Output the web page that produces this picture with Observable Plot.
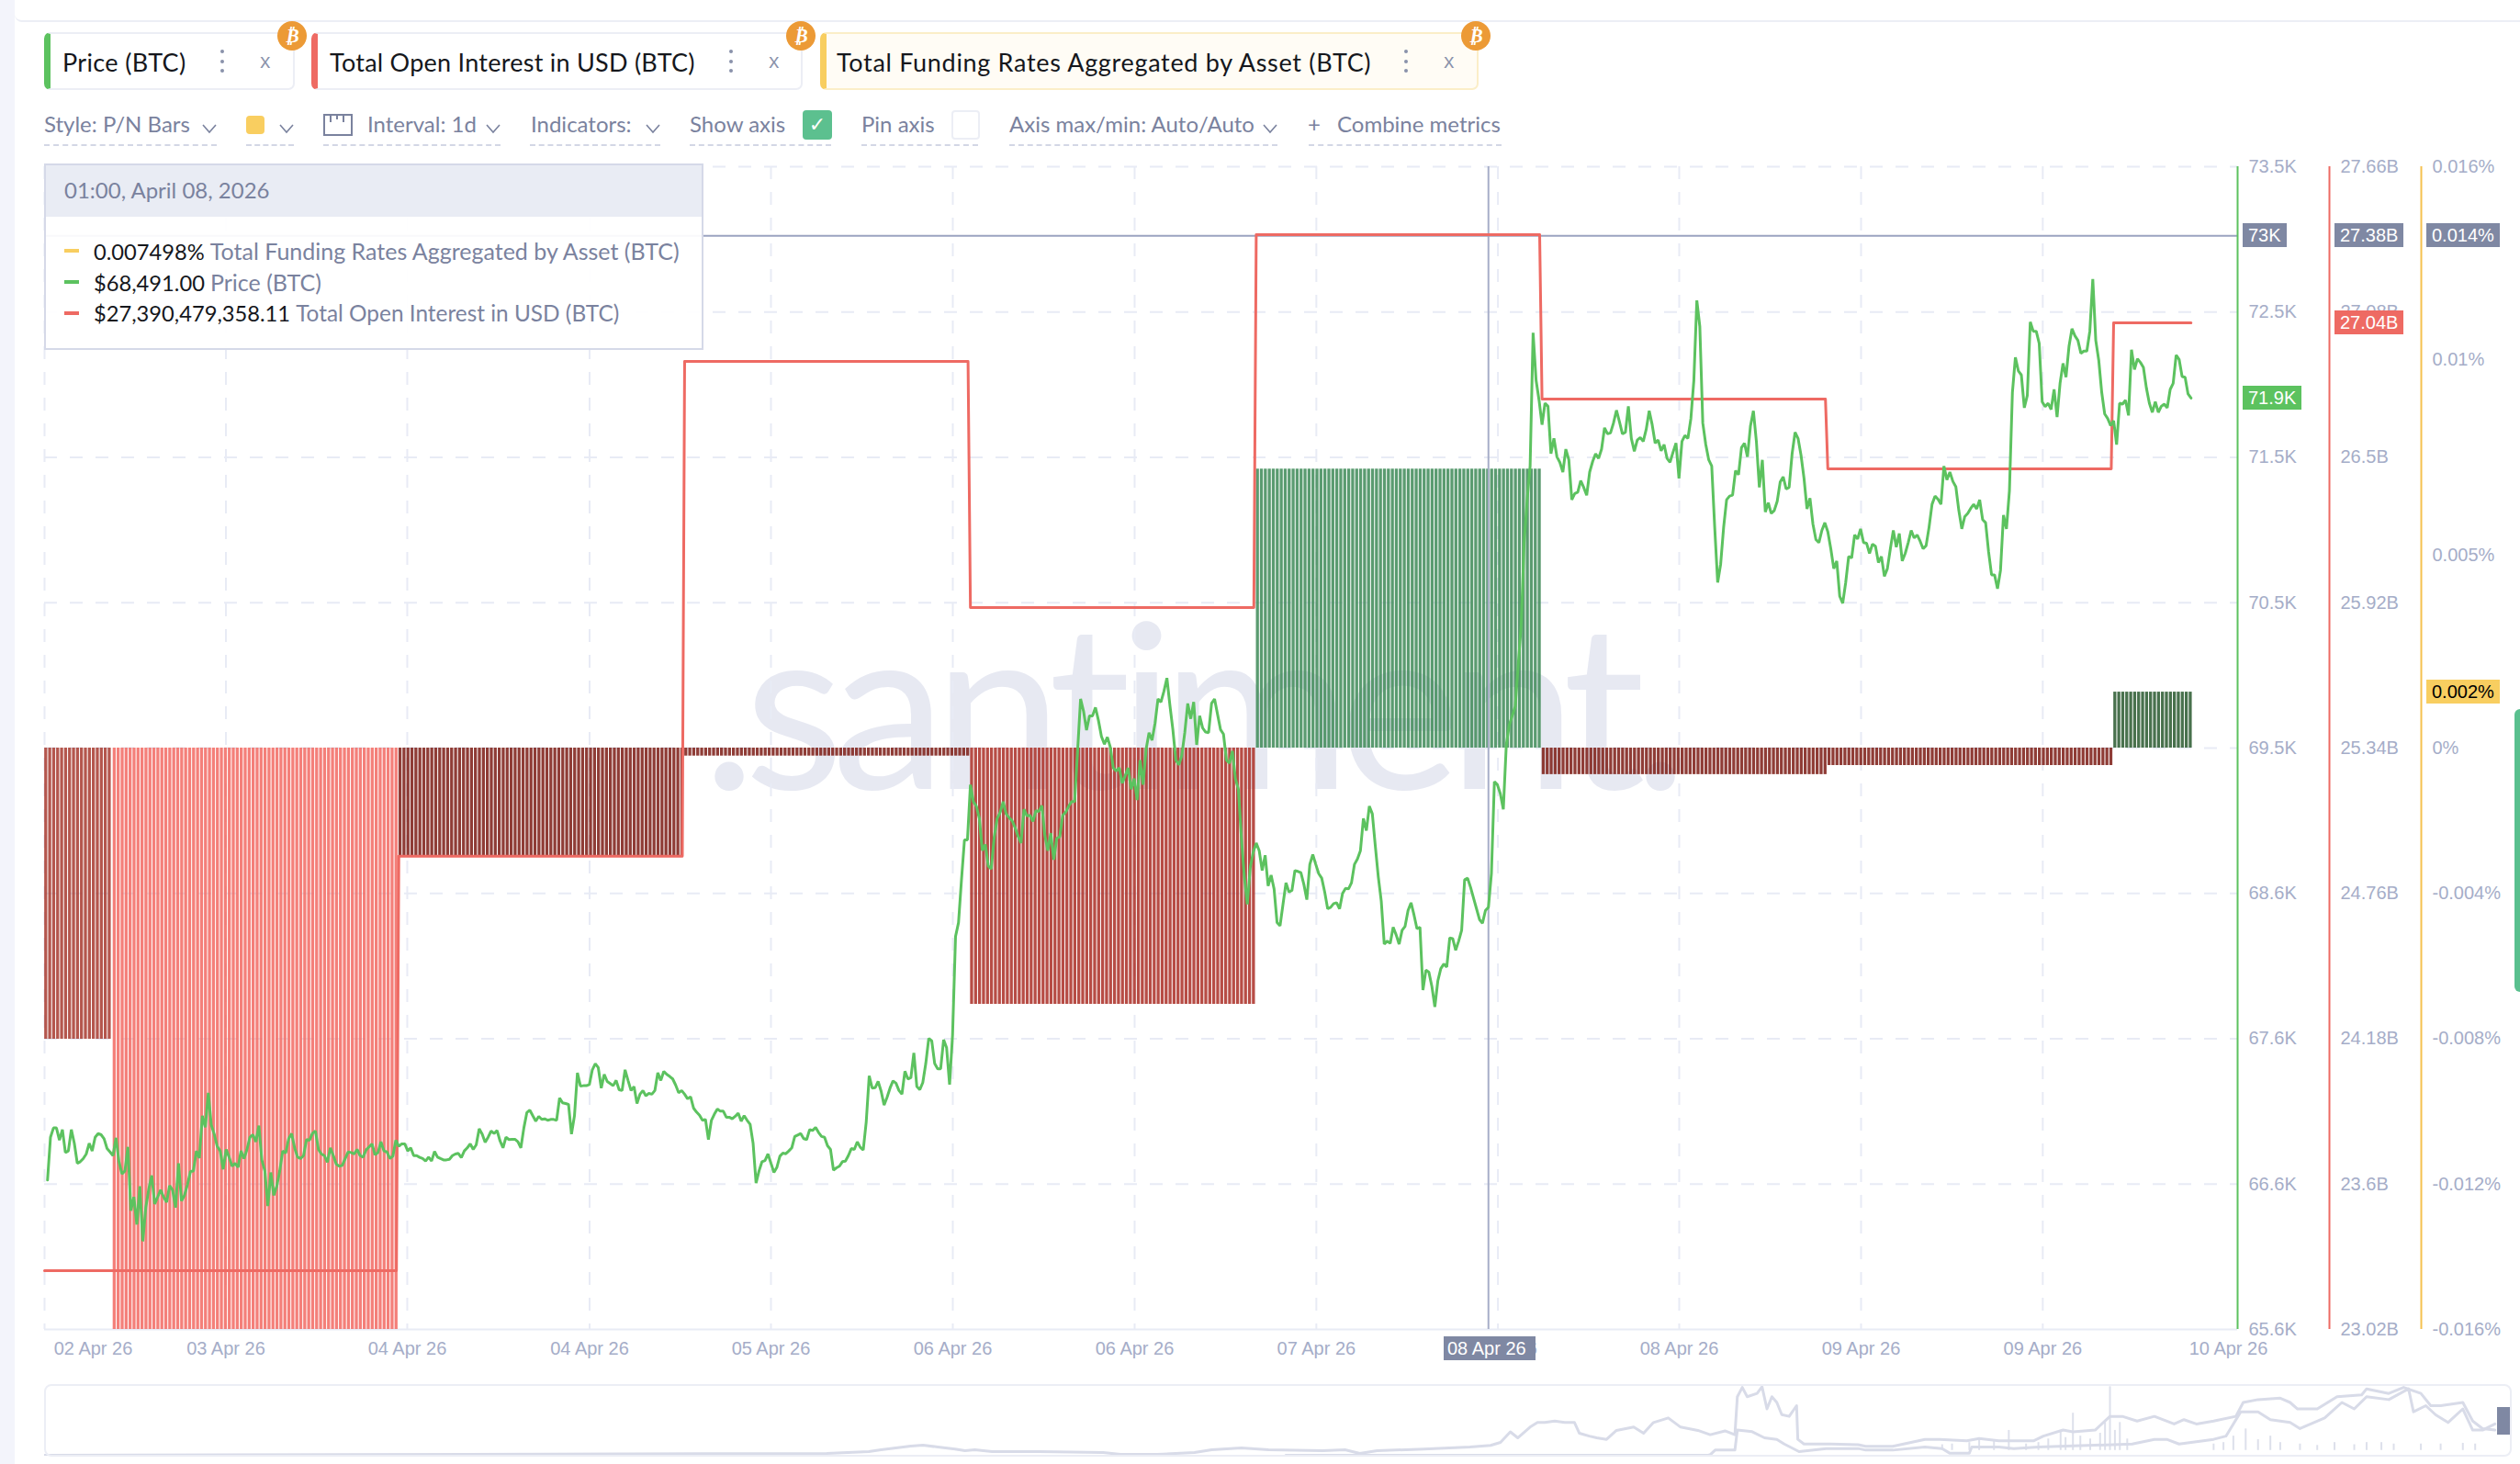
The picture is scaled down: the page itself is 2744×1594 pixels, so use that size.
<!DOCTYPE html>
<html><head><meta charset="utf-8">
<script src="https://cdn.jsdelivr.net/npm/d3@7"></script>
<script src="https://cdn.jsdelivr.net/npm/@observablehq/plot@0.6"></script>
<style>
html,body{margin:0;padding:0;background:#fff}
body{width:2744px;height:1594px;position:relative;overflow:hidden;font-family:Lato,sans-serif}
.abs{position:absolute;white-space:nowrap;box-sizing:border-box}
svg{position:absolute;background:transparent}
</style></head><body>
<script>
// ---------- data ----------
const startTime = "2026-04-02T23:45:00Z";
// BTC price every 15 minutes, from 15 minutes after startTime
const priceValues = [
66615,66906,66969,66969,66886,66958,66802,66813,66958,66865,66729,66740,66761,66792,66865,66813,66906,66931,66923,66896,66829,66806,66781,66902,66740,66657,66677,66840,66407,66500,66313,66573,66199,66428,66552,66646,66453,66500,66548,66500,66465,66577,66548,66428,66729,66473,66511,66584,66673,66677,66813,66765,67052,66973,67208,66990,66927,66844,66813,66688,66823,66771,66709,66729,66702,66813,66761,66823,66906,66923,66875,66985,66750,66677,66438,66667,66511,66573,66677,66813,66798,66896,66931,66834,66771,66761,66781,66890,66886,66933,66948,66823,66792,66781,66736,66834,66781,66723,66709,66715,66761,66806,66802,66792,66823,66781,66771,66819,66840,66861,66786,66802,66875,66813,66806,66761,66777,66886,66844,66861,66861,66813,66834,66781,66781,66769,66761,66744,66771,66744,66809,66771,66761,66752,66752,66756,66781,66792,66796,66767,66813,66834,66861,66823,66854,66963,66927,66871,66906,66948,66931,66952,66881,66834,66906,66890,66892,66892,66875,66834,66969,67073,67090,67052,67015,67048,67027,67031,67021,67027,67027,67021,67173,67140,67135,67129,66927,67052,67344,67254,67256,67256,67264,67364,67406,67379,67240,67333,67285,67271,67256,67292,67229,67223,67364,67292,67223,67250,67135,67198,67223,
67187,67204,67198,67223,67344,67292,67354,67333,67319,67302,67260,67208,67223,67198,67167,67181,67104,67077,67056,67021,67027,66890,67021,67063,67098,67083,67083,67042,67042,67031,67048,67069,67015,67052,67021,66994,66865,66594,66677,66740,66748,66792,66729,66667,66702,66777,66798,66794,66813,66834,66911,66921,66931,66896,66890,66958,66952,66973,66938,66911,66906,66848,66823,66682,66698,66709,66740,66744,66781,66829,66823,66875,66838,66819,67010,67323,67240,67242,67285,67219,67125,67177,67240,67289,67273,67223,67198,67354,67302,67310,67479,67250,67229,67277,67406,67577,67562,67406,67371,67371,67568,67514,67264,67600,
68270,68364,68656,68926,68926,69301,69186,69155,69072,68853,68895,68749,68728,68947,69072,69114,69186,69103,69076,69057,69010,68951,68905,69134,69089,69093,69051,69124,69120,69159,68957,68853,68972,68791,68937,68947,69093,69114,69155,69186,69186,69530,69884,69801,69672,69769,69769,69826,69738,69630,69576,69624,69555,69415,69395,69415,69311,69363,69415,69270,69343,69197,69468,69301,69540,69655,69603,69717,69884,69863,69936,70026,69842,69676,69468,69436,69499,69655,69853,69749,69863,69572,69769,69686,69659,69655,69853,69884,69780,69676,69645,69468,69447,69530,69343,69270,68947,68676,68489,68739,68843,68905,68853,68718,68822,68614,68687,68593,68364,68343,68489,68635,68572,68583,68718,68712,68703,68624,68520,68760,68826,68760,68697,68666,68572,68458,68468,68493,68499,68458,68562,68597,68593,68635,68760,68797,68853,69072,68989,69155,69103,68885,68676,68510,68218,68239,68223,68333,68281,68218,68312,68339,68447,68499,68416,68322,68333,67906,68041,68027,67931,67792,67968,68052,68083,68062,68260,68256,68177,68239,68312,68656,68666,68604,68531,68458,68385,68360,68447,68468,68697,69322,69301,69239,69134,69572,69707,69769,69832,70113,
70384,70946,71237,71466,72372,72049,71914,71747,71893,71872,71550,71654,71529,71491,71425,71581,71508,71237,71279,71289,71366,71321,71268,71425,71497,71550,71518,71581,71726,71685,71691,71758,71845,71768,71685,71695,71872,71654,71566,71643,71660,71633,71716,71841,71747,71622,71643,71570,71612,71518,71491,71560,71622,71383,71633,71674,71654,71789,72049,72591,72414,71758,71612,71508,71466,71050,70675,70800,71050,71237,71262,71268,71435,71408,71591,71622,71529,71737,71841,71633,71321,71508,71154,71216,71144,71164,71227,71358,71393,71310,71321,71550,71695,71654,71539,71383,71175,71248,71071,70967,70946,71029,71081,71019,70904,70769,70821,70581,70534,70675,70852,70842,70998,70971,71039,70946,70942,70873,70935,70921,70810,70852,70717,70769,70904,71029,70915,71008,70821,70873,70946,71029,70977,70998,70956,70904,70925,71050,71206,71262,71241,71206,71466,71373,71425,71362,71325,71164,71039,71123,71144,71179,71206,71175,71237,71102,71081,70883,70727,70727,70633,70758,71133,71039,71300,71966,72205,72112,72085,71862,71945,72445,72382,72382,72299,71903,71870,71893,71851,71987,71799,72028,72164,72070,72278,72399,72351,72320,72232,72247,72247,72382,72736,72320,72185,71966,71820,71789,71741,71774,71612,71893,71887,71914,71810,72257,72122,72195,72170,72137,71997,71893,71831,71903,71831,71872,71887,71862,71987,72028,72220,72191,72074,72070,71956,71928];
// Total open interest in USD billions, one level per day, with its start in hours after startTime
const oiStarts = [0,29.75,53.75,77.75,101.75,125.75,149.75,173.75];
const oiValues = [23.255,24.908,26.883,25.901,27.389,26.733,26.454,27.037];
// Aggregated funding rate in percent, one bar per day
const fundingStarts = [0,5.75,29.75,53.75,77.75,101.75,125.75,149.75,173.75];
const fundingValues = [-0.00801,-0.016,-0.00298,-0.00022,-0.00705,0.00768,-0.00073,-0.00048,0.00154];
const lastHour = 180.25;
// axes
const priceTicks = [73500,72512,71525,70538,69550,68562,67575,66588,65600];
const priceLabels = ["73.5K","72.5K","71.5K","70.5K","69.5K","68.6K","67.6K","66.6K","65.6K"];
const oiTickValues = [27.66,27.08,26.5,25.92,25.34,24.76,24.18,23.6,23.02];
const oiLabels = ["27.66B","27.08B","26.5B","25.92B","25.34B","24.76B","24.18B","23.6B","23.02B"];
const fundingTicks = [0.016,0.0107,0.0053,0,-0.004,-0.008,-0.012,-0.016];
const fundingLabels = ["0.016%","0.01%","0.005%","0%","-0.004%","-0.008%","-0.012%","-0.016%"];
const dateTickHours = [15.23,30.46,45.77,61.0,76.27,91.54,106.8,122.05,137.27,152.54,167.8];
const firstTickHour = 0, lastTickHour = 183.08;
const crosshairHour = 121.25, crosshairPrice = 73030;
// overview strip, position and height in percent of the strip
const miniUpperX = [0,31.7,33.4,33.9,35.1,35.6,36.2,36.9,37.3,37.7,38.4,40.3,42.9,43.6,45.1,46.6,47.3,48.5,49.6,51.8,52.7,53.3,54,55.9,57.76,58.6,59,59.4,59.7,60.2,60.5,60.8,61.2,61.6,62,62.2,62.6,62.9,63.3,63.7,64.4,64.8,65.2,65.8,66.3,67,67.5,68.1,68.5,68.6,68.8,69,69.4,69.6,69.8,70,70.2,70.4,70.7,71,71.05,71.3,72.4,73.5,73.8,74.9,76.2,76.8,77.9,78.4,79.2,80.6,81,81.8,82.2,83.1,83.7,84.2,84.8,85.5,86.3,86.7,87.2,87.9,88.8,89.1,89.7,90.6,91,91.3,92.1,92.9,93.9,94.1,95,95.6,96.3,96.7,97.1,98,98.4,98.8,99.3];
const miniUpperY = [1.3,3.8,6.4,9,14,15.4,12.8,10,7.7,9,6.4,6.4,5,2.6,2.6,5,9,11.5,9,7.7,9,3.8,7.7,10,12.8,15,19.2,34,25.6,40.6,47,47,49,47,47,32,28,25.6,23.5,36,40.6,32,47,53.4,40.6,36,30,35.3,30,83,96,83,87.6,97,66,83,75,58,55.6,70.5,23.5,17,17,16,13.7,13.7,23.5,23.5,21.4,24.8,21.4,21.4,28,36.5,34,36.5,55.6,55.6,49,55.6,45,51,45,49,55.6,75,79,81,75,66,66,83,85.5,94,87.6,96,87.6,70.5,70.5,75,49,38.5,36.5];
const miniLowerX = [50.3,57.8,67.4,67.5,67.7,68.5,68.6,69.2,69.7,70.2,70.5,71.1,72.2,73.5,73.8,74.9,76.2,76.9,77.2,78,78.1,79.2,79.8,80.8,84.6,85.5,86,86.5,87.9,88.4,89,89.7,90.2,91,91.4,92.4,93.1,93.6,94.1,95,95.8,96,96.5,96.9,97.4,98,98.4,98.8,99.3];
const miniLowerY = [1.3,1.3,1.3,2,8.5,8.5,36.5,34.2,25.6,23.5,17,6.4,10.7,10.7,8.5,8.5,12.8,10.7,4.3,4.3,12.8,12.8,10.7,12.8,17,23.5,23.5,17,23.5,28,62,62,51,47,38.5,53.4,75,66,83,79,94,62,70.5,57.7,47,66,36.5,36.5,45];
const miniSpikeX = [76.9,77.3,78,78.4,79,79.6,80.3,80.8,81.2,81.7,81.9,82.2,82.5,82.9,83.3,83.5,83.7,83.9,84.1,84.4,87.9,88.3,88.7,89.2,89.7,90.2,90.6,91.4,92.1,92.8,93.6,94.1,94.7,95.2,96.3,97.1,98,98.5];
const miniSpikeY = [16,17,19,24,21,36,17,19,24,34,26,60,28,24,32,47,97,36,47,24,17,19,28,38,23,28,19,17,15,19,16,19,19,17,17,17,18,17];

// ---------- styles ----------
const GREEN="#5cc25f", RED="#ee6a63", YELLOW="#f5c14f", GRID="#e8ebf5", TICK="#a5adc8", SLATE="#7f88a3", UI="#7a829e";
const barFill = i => ["#a83a30","#f26a63","#7d1c15","#7d1c15","#ab2f26","#3f8a58","#7d1c15","#7d1c15","#2a5a30"][i];

// ---------- scales helpers ----------
const t0 = +new Date(startTime);
const at = h => new Date(t0 + h*3600e3);
const fromOi = d3.scaleLinear([23.02,27.66],[65600,73500]);
const fromFunding = d3.scaleLinear([-0.016,0.016],[65600,73500]);

const priceTable = priceValues.map((v,i)=>({t:at((i+1)*0.25),v}));
const oiTable = oiValues.flatMap((v,i)=>[
  {t:at(oiStarts[i]),v:fromOi(v)},
  {t:at((i<oiStarts.length-1?oiStarts[i+1]-0.2:lastHour)),v:fromOi(v)}]);
const stripes = fundingValues.flatMap((v,i)=>{
  const end = i<fundingStarts.length-1?fundingStarts[i+1]:lastHour;
  return d3.range(fundingStarts[i]+0.1,end,1/3).map(h=>({t:at(h),v:fromFunding(v),i}));
});
const base = fromFunding(0);
const tickStyle = {tickSize:0,fontSize:20,fill:TICK,label:null};
const mapOf = (k,v)=>{const m=new Map(k.map((d,i)=>[+d,v[i]]));return d=>m.get(+d)};
const fmtDate = d3.utcFormat("%d %b %y");
const gridDates = [firstTickHour,...dateTickHours].map(at);

const chart = Plot.plot({
  width:2744,height:1340,marginTop:21,marginBottom:53,marginLeft:48,marginRight:308,
  style:{fontFamily:"'Liberation Sans',sans-serif",fontSize:"20px",background:"transparent"},
  x:{type:"utc",domain:[at(0),at(184.16)]},
  y:{domain:[65600,73500]},
  marks:[
    Plot.text([".santiment."],{frameAnchor:"middle",dx:52,dy:44,lineAnchor:"bottom",fontSize:250,fontFamily:"Lato,sans-serif",fill:"#e7e9f2",className:"wm"}),
    Plot.ruleY(priceTicks.slice(0,-1),{stroke:GRID,strokeWidth:2,strokeDasharray:"14 14"}),
    Plot.ruleX(gridDates,{stroke:GRID,strokeWidth:2,strokeDasharray:"14 14"}),
    Plot.ruleY([65600],{stroke:GRID,strokeWidth:2}),
    Plot.ruleX(stripes,{x:"t",y1:base,y2:"v",stroke:d=>barFill(d.i),strokeWidth:3.3,strokeOpacity:0.86}),
    Plot.ruleX([at(crosshairHour)],{stroke:"#a7aec8",strokeWidth:2}),
    Plot.ruleY([crosshairPrice],{stroke:"#9ba3c0",strokeWidth:2}),
    Plot.line(oiTable,{x:"t",y:"v",stroke:RED,strokeWidth:3,curve:"linear"}),
    Plot.line(priceTable,{x:"t",y:"v",stroke:GREEN,strokeWidth:3,curve:"linear",strokeLinejoin:"miter"}),
    Plot.ruleX([at(184.16)],{stroke:GREEN,strokeWidth:2}),
    Plot.ruleX([at(184.16)],{stroke:RED,strokeWidth:2,dx:100}),
    Plot.ruleX([at(184.16)],{stroke:YELLOW,strokeWidth:2,dx:200}),
    Plot.axisY(priceTicks,{...tickStyle,anchor:"right",tickPadding:12,tickFormat:mapOf(priceTicks,priceLabels)}),
    Plot.axisY(oiTickValues.map(fromOi),{...tickStyle,anchor:"right",tickPadding:12,dx:100,tickFormat:mapOf(oiTickValues.map(fromOi),oiLabels)}),
    Plot.axisY(fundingTicks.map(fromFunding),{...tickStyle,anchor:"right",tickPadding:12,dx:200,tickFormat:mapOf(fundingTicks.map(fromFunding),fundingLabels)}),
    Plot.axisX(dateTickHours.map(at),{...tickStyle,anchor:"bottom",tickPadding:13,tickFormat:fmtDate}),
    Plot.axisX([at(firstTickHour)],{...tickStyle,anchor:"bottom",tickPadding:13,dx:53,tickFormat:fmtDate}),
    Plot.axisX([at(lastTickHour)],{...tickStyle,anchor:"bottom",tickPadding:13,dx:4,tickFormat:fmtDate})
  ]
});
chart.style.left="0px";chart.style.top="160px";
d3.select(chart).selectAll("text").filter(function(){return this.textContent===".santiment."}).style("letter-spacing","-13px");
document.body.append(chart);

const mini = Plot.plot({
  width:2687,height:78,margin:0,x:{domain:[0,100],axis:null},y:{domain:[0,100],axis:null},
  style:{background:"transparent"},
  marks:[
    Plot.ruleX(miniSpikeX.map((x,i)=>({x,y:miniSpikeY[i]})),{x:"x",y1:8,y2:"y",stroke:"#dde0eb",strokeWidth:2}),
    Plot.line(miniUpperX.map((x,i)=>({x,y:miniUpperY[i]})),{x:"x",y:"y",stroke:"#d8dbe8",strokeWidth:3}),
    Plot.line(miniLowerX.map((x,i)=>({x,y:miniLowerY[i]})),{x:"x",y:"y",stroke:"#d8dbe8",strokeWidth:3})
  ]
});
mini.style.left="48px";mini.style.top="1507px";
document.body.append(mini);

// ---------- page furniture ----------
function el(css,html=""){const d=document.createElement("div");d.className="abs";d.style.cssText=css;d.innerHTML=html;document.body.append(d);return d}
el("left:0;top:0;width:16px;height:1594px;background:#f3f4fb");
el("left:16px;top:0;width:2728px;height:24px;border-bottom:2px solid #eceef5;border-bottom-left-radius:8px;background:#fff");
el("left:2738px;top:772px;width:6px;height:308px;background:#5ac08f;border-radius:7px 0 0 7px");
el("left:48px;top:1507px;width:2687px;height:79px;border:2px solid #eceef5;border-radius:8px");
el("left:2719px;top:1532px;width:14px;height:30px;background:#7f88a3");

// tabs
const TABFONT="font-size:27px;color:#15171c;line-height:65px;";
function tab(x,w,color,label,textX,kebab,close,badge,bg,border,track){
  el(`left:${x}px;top:35px;width:${w}px;height:63px;background:${bg};border:2px solid ${border};border-radius:7px;border-left:7px solid ${color}`);
  el(`left:${textX}px;top:35px;${TABFONT}letter-spacing:${track}px`,label);
  [56,67,77].forEach(y=>el(`left:${kebab-2}px;top:${y-2}px;width:4px;height:4px;border-radius:50%;background:#8a92ab`));
  el(`left:${close-7}px;top:50px;font-size:22px;color:#8a92ab;line-height:30px;font-family:'Open Sans'`,"x");
  el(`left:${badge-16}px;top:23px;width:32px;height:32px;border-radius:50%;background:#ec9a36;color:#fff;font:bold italic 21px/32px 'DejaVu Sans';text-align:center`,"₿");
}
tab(48,273,GREEN,"Price (BTC)",68,242,290,318,"#fff","#eceef5",.35);
tab(339,535,RED,"Total Open Interest in USD (BTC)",359,796,844,872,"#fff","#eceef5",.25);
tab(893,717,"#f8ce60","Total Funding Rates Aggregated by Asset (BTC)",911,1531,1579,1607,"#fffcf5","#fbeec8",.68);

// controls
const CTRL=`top:117px;font-size:24px;line-height:36px;color:${UI};`;
const chev=(x)=>el(`left:${x-8}px;top:130px;width:16px;height:12px`,`<svg width="16" height="12" style="position:static"><path d="M1 2 L8 10 L15 2" fill="none" stroke="${UI}" stroke-width="1.6"/></svg>`);
const under=(x1,x2)=>el(`left:${x1}px;top:157px;width:${x2-x1}px;height:0;border-top:2px dashed #d3d7e5`);
el(`left:48px;${CTRL}`,"Style: P/N Bars");chev(228);under(48,236);
el(`left:268px;top:126px;width:20px;height:20px;background:#f9ce60;border-radius:4px`);chev(312);under(268,320);
el(`left:352px;top:124px;width:32px;height:24px`,`<svg width="32" height="24" style="position:static"><rect x="1" y="1" width="30" height="22" fill="none" stroke="${UI}" stroke-width="2"/><path d="M8 1V9M15 1V6M22 1V9" stroke="${UI}" stroke-width="2"/></svg>`);
el(`left:400px;${CTRL}`,"Interval: 1d");chev(537);under(352,545);
el(`left:578px;${CTRL}`,"Indicators:");chev(711);under(577,719);
el(`left:751px;${CTRL}`,"Show axis");under(751,905);
el(`left:874px;top:120px;width:32px;height:32px;background:#5cc08f;border-radius:4px;color:#fff;font:22px/32px 'DejaVu Sans';text-align:center`,"✓");
el(`left:938px;${CTRL}`,"Pin axis");under(938,1065);
el(`left:1036px;top:120px;width:31px;height:32px;border:2px solid #eceef5;border-radius:4px`);
el(`left:1099px;${CTRL}`,"Axis max/min: Auto/Auto");chev(1383);under(1099,1391);
el(`left:1424px;${CTRL}`,"+");
el(`left:1456px;${CTRL}`,"Combine metrics");under(1425,1635);

// tooltip
el(`left:48px;top:178px;width:718px;height:203px;background:rgba(255,255,255,.93);border:2px solid #d5d9e8`);
el(`left:48px;top:178px;width:718px;height:58px;background:#e9ecf4;border:2px solid #d5d9e8;border-bottom:0;color:${UI};font-size:24px;line-height:54px;padding-left:20px`,"01:00, April 08, 2026");
[[273,"#f8ce60","0.007498%","Total Funding Rates Aggregated by Asset (BTC)",25],
 [307,GREEN,"$68,491.00","Price (BTC)",25],
 [341,RED,"$27,390,479,358.11","Total Open Interest in USD (BTC)",24.4]].forEach(([y,c,val,lab,size])=>{
  el(`left:70px;top:${y-2}px;width:16px;height:4px;background:${c}`);
  el(`left:102px;top:${y-18}px;font-size:23.7px;line-height:36px;color:${UI}`,`<span style="color:#15171c">${val}</span> <span style="font-size:${size}px">${lab}</span>`);
});

// value tags placed through the chart's own y scale
const yPos = v => chart.scale("y").apply(v)+160;
const tag=(x,w,value,txt,bg,fg)=>el(`left:${x}px;top:${yPos(value)-13}px;width:${w}px;height:26px;background:${bg};color:${fg};font:20px/26px 'Liberation Sans';padding-left:6px`,txt);
tag(2442,48,crosshairPrice,"73K",SLATE,"#fff");
tag(2542,75,crosshairPrice,"27.38B",SLATE,"#fff");
tag(2642,80,crosshairPrice,"0.014%",SLATE,"#fff");
tag(2542,75,fromOi(oiValues[7]),"27.04B",RED,"#fff");
tag(2442,64,priceValues[priceValues.length-1],"71.9K",GREEN,"#fff");
tag(2642,80,fromFunding(fundingValues[8]),"0.002%","#f8ce60","#000");
el(`left:1572px;top:1455px;width:100px;height:26px;background:${SLATE};color:#fff;font:20px/26px 'Liberation Sans';padding-left:4px`,"08 Apr 26");
</script>
</body></html>
